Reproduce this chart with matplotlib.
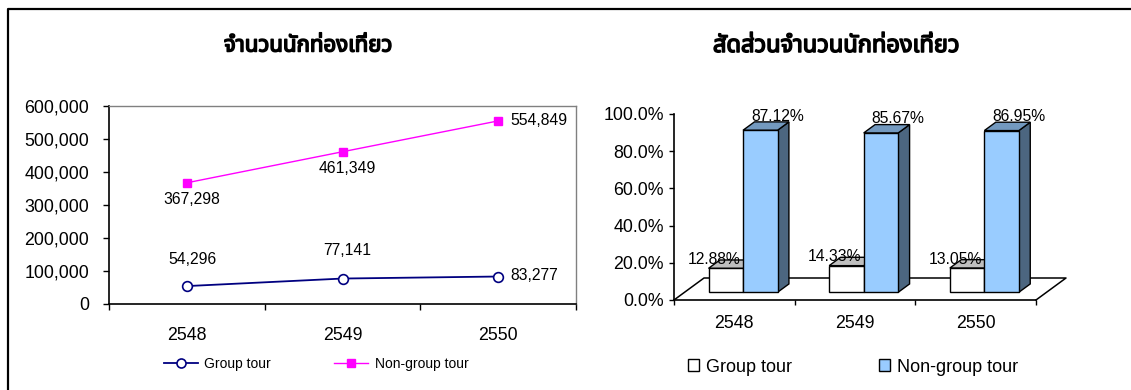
import matplotlib
matplotlib.use("Agg")
import matplotlib.pyplot as plt
from matplotlib import font_manager, patheffects
from matplotlib.ft2font import FT2Font
from matplotlib.lines import Line2D
from matplotlib.patches import Polygon, Patch
from matplotlib.ticker import FuncFormatter

# ---- data ----
years = ["2548", "2549", "2550"]
group_tour = [54296, 77141, 83277]
non_group_tour = [367298, 461349, 554849]
group_share = [12.88, 14.33, 13.05]
non_group_share = [87.12, 85.67, 86.95]
series_names = ["Group tour", "Non-group tour"]
title_count = "จำนวนนักท่องเที่ยว"
title_share = "สัดส่วนจำนวนนักท่องเที่ยว"

# ---- fonts ----
LATIN = "Liberation Sans"


def thai_family():
    preferred = ["Noto Sans Thai", "Noto Sans Thai Looped", "Tahoma", "Loma",
                 "Garuda", "Sarabun", "Norasi", "Kinnari", "Waree", "Umpush"]
    found = {}
    for fe in font_manager.fontManager.ttflist:
        if fe.name in found:
            continue
        try:
            ft = FT2Font(fe.fname)
            if ft.get_char_index(ord("จ")) and ft.get_char_index(ord("ว")):
                found[fe.name] = fe.fname
        except Exception:
            pass
    for name in preferred:
        if name in found:
            return name
    return next(iter(found), None)


th = thai_family()
title_fam = [th, LATIN] if th else [LATIN, "DejaVu Sans"]
plt.rcParams["font.family"] = [LATIN, "DejaVu Sans"]

W, H = 1131, 390
fig = plt.figure(figsize=(W / 100, H / 100), dpi=100)
fig.patch.set_facecolor("white")


def fx(px):
    return px / W


def fy(py):
    return 1 - py / H


def pt(px):
    return px * 0.72


# heavier strokes for the title glyphs
title_fx = [patheffects.withStroke(linewidth=1.1, foreground="black")]

# outer frame (left and top edges)
fig.add_artist(Line2D([fx(7.5), fx(7.5), fx(W)], [fy(H), fy(8.5), fy(8.5)],
                      transform=fig.transFigure, color="black", lw=pt(2.2)))

# ---- line chart: visitor counts ----
ax1 = fig.add_axes([fx(109), fy(304), (576 - 109) / W, (304 - 106) / H])
x = list(range(len(years)))
ax1.plot(x, group_tour, color="#000080", lw=1.3, marker="o", ms=7,
         mfc="white", mec="#000080", mew=1.2, zorder=3)
ax1.plot(x, non_group_tour, color="#FF00FF", lw=1.0, marker="s", ms=5.5,
         mfc="#FF00FF", mec="#FF00FF", zorder=3)
ax1.set_xlim(-0.5, 2.5)
ax1.set_ylim(0, 600000)
ax1.set_yticks(range(0, 600001, 100000))
ax1.yaxis.set_major_formatter(FuncFormatter(lambda v, p: f"{int(v):,}"))
ax1.set_xticks([-0.5, 0.5, 1.5, 2.5])
ax1.set_xticklabels([])
ax1.set_xticks(x, minor=True)
ax1.set_xticklabels(years, minor=True)
ax1.tick_params(axis="x", which="major", direction="out", length=pt(6), width=1)
ax1.tick_params(axis="x", which="minor", length=0, pad=pt(23), labelsize=12.8)
ax1.tick_params(axis="y", direction="out", length=pt(6), width=1, pad=pt(14),
                labelsize=12.8)
for s in ("top", "right"):
    ax1.spines[s].set_color("#808080")
    ax1.spines[s].set_linewidth(1)
for s in ("left", "bottom"):
    ax1.spines[s].set_color("black")
    ax1.spines[s].set_linewidth(1.2)

# value labels (pixel offsets from each point)
non_group_off = [(5, -17, "center"), (5, -17, "center"), (12, 0, "left")]
group_off = [(6, 27, "center"), (5, 28, "center"), (12, 1, "left")]
for xi, v, (dx, dy, ha) in zip(x, non_group_tour, non_group_off):
    ax1.annotate(f"{v:,}", (xi, v), xytext=(pt(dx), pt(dy)),
                 textcoords="offset points", ha=ha, va="center", fontsize=11.3)
for xi, v, (dx, dy, ha) in zip(x, group_tour, group_off):
    ax1.annotate(f"{v:,}", (xi, v), xytext=(pt(dx), pt(dy)),
                 textcoords="offset points", ha=ha, va="center", fontsize=11.3)

h1 = [Line2D([], [], color="#000080", lw=1.3, marker="o", ms=6.5, mfc="white",
             mec="#000080", mew=1.2),
      Line2D([], [], color="#FF00FF", lw=1.0, marker="s", ms=5.5,
             mfc="#FF00FF", mec="#FF00FF")]
fig.legend(h1, series_names, loc="center", bbox_to_anchor=(fx(316), fy(364)),
           ncol=2, frameon=False, fontsize=10, handlelength=2.45,
           handletextpad=0.45, columnspacing=4.6, borderpad=0)

fig.text(fx(308), fy(46), title_count, ha="center", va="center",
         fontsize=16, fontweight="bold", family=title_fam,
         path_effects=title_fx)

# ---- 3-D style column chart: shares ----
ax2 = fig.add_axes([fx(674), fy(300), (1036 - 674) / W, (300 - 114) / H])
ax2.set_xlim(-0.5, 2.5)
ax2.set_ylim(0, 100)
ax2.set_yticks(range(0, 101, 20))
ax2.yaxis.set_major_formatter(FuncFormatter(lambda v, p: f"{v:.1f}%"))
ax2.set_xticks([-0.5, 0.5, 1.5, 2.5])
ax2.set_xticklabels([])
ax2.set_xticks(x, minor=True)
ax2.set_xticklabels(years, minor=True)
ax2.tick_params(axis="x", which="major", direction="out", length=pt(5), width=1)
ax2.tick_params(axis="x", which="minor", length=0, pad=pt(14.5), labelsize=12.8)
ax2.tick_params(axis="y", direction="out", length=pt(5), width=1, pad=pt(5),
                labelsize=12.8)
for s in ("top", "right"):
    ax2.spines[s].set_visible(False)
for s in ("left", "bottom"):
    ax2.spines[s].set_linewidth(1.2)
ax2.patch.set_visible(False)

UX = 362 / 3          # pixels per category unit
UY = 186 / 100        # pixels per percent
DX, DY = 30 / UX, 22 / UY          # full floor depth
f0, f1 = 0.35, 0.73                # bar front / back depth fractions
bw = 34.5 / UX                      # bar width
shift = -0.015

# floor outline
ax2.plot([-0.5, -0.5 + DX, 2.5 + DX, 2.5], [0, DY, DY, 0], color="black",
         lw=1.1, clip_on=False, zorder=1)

faces = {
    "group": ("white", "#BFBFBF", "#808080"),
    "non": ("#99CCFF", "#7399BF", "#4C6680"),
}


def column(x0, value, colors, z):
    front, top, side = colors
    base = f0 * DY
    xl = x0 + f0 * DX
    xr = xl + bw
    ddx, ddy = (f1 - f0) * DX, (f1 - f0) * DY
    kw = dict(ec="black", lw=1.0, clip_on=False, zorder=z, joinstyle="miter")
    ax2.add_patch(Polygon([(xr, base), (xr + ddx, base + ddy),
                           (xr + ddx, base + ddy + value), (xr, base + value)],
                          fc=side, **kw))
    ax2.add_patch(Polygon([(xl, base + value), (xr, base + value),
                           (xr + ddx, base + value + ddy),
                           (xl + ddx, base + value + ddy)], fc=top, **kw))
    ax2.add_patch(Polygon([(xl, base), (xr, base), (xr, base + value),
                           (xl, base + value)], fc=front, **kw))
    return (xl + xr) / 2, base + value


for i, (g, n) in enumerate(zip(group_share, non_group_share)):
    gx, gy = column(i + shift - bw, g, faces["group"], 2 + 2 * i)
    nx, ny = column(i + shift, n, faces["non"], 3 + 2 * i)
    ax2.annotate(f"{g:.2f}%", (gx, gy), xytext=(pt(-12), pt(9)),
                 textcoords="offset points", ha="center", va="center",
                 fontsize=11.3, zorder=20, annotation_clip=False)
    ax2.annotate(f"{n:.2f}%", (nx, ny), xytext=(pt(17), pt(14)),
                 textcoords="offset points", ha="center", va="center",
                 fontsize=11.3, zorder=20, annotation_clip=False)

h2 = [Patch(fc="white", ec="black", lw=1.0),
      Patch(fc="#99CCFF", ec="black", lw=1.0)]
fig.legend(h2, series_names, loc="center", bbox_to_anchor=(fx(853), fy(367)),
           ncol=2, frameon=False, fontsize=13, handlelength=0.6,
           handleheight=0.6, handletextpad=0.4, columnspacing=4.8, borderpad=0)

fig.text(fx(836), fy(46), title_share, ha="center", va="center",
         fontsize=17, fontweight="bold", family=title_fam,
         path_effects=title_fx)

fig.savefig("out.png", dpi=100, facecolor="white")
